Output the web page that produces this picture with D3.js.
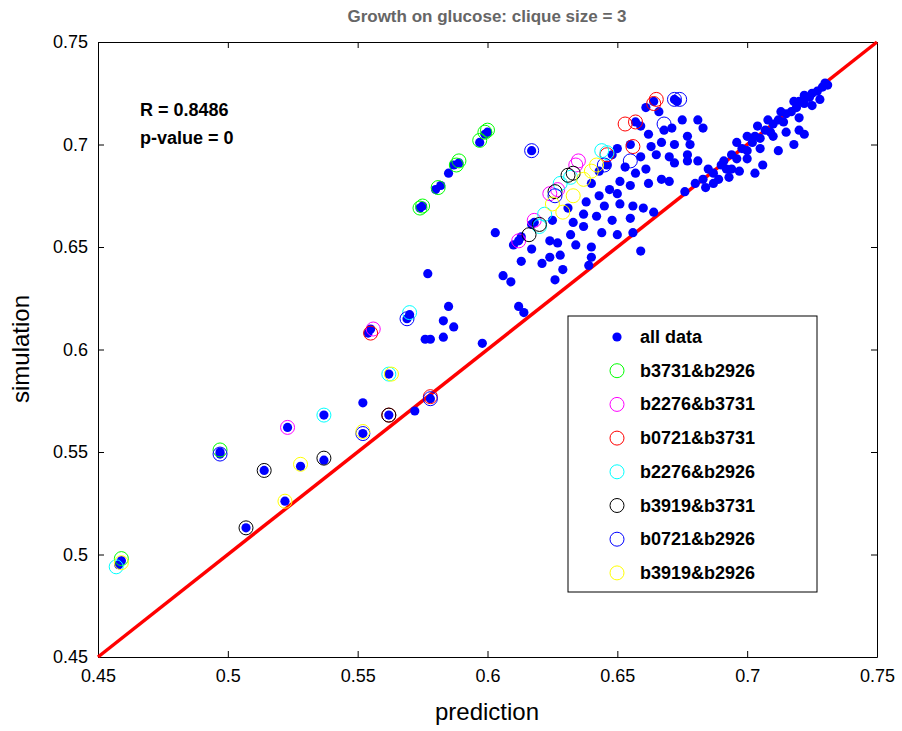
<!DOCTYPE html>
<html><head><meta charset="utf-8">
<script src="https://cdn.jsdelivr.net/npm/d3@7"></script>
<style>body{margin:0;background:#fff;} text{font-family:Arial,"Liberation Sans",sans-serif;}</style>
</head><body><div id="chart"></div>
<script>
var allData = [[0.458,0.495],[0.459,0.497],[0.497,0.550],[0.497,0.549],[0.514,0.541],[0.507,0.513],[0.522,0.526],[0.523,0.562],[0.528,0.543],[0.537,0.568],[0.537,0.546],[0.552,0.559],[0.552,0.574],[0.555,0.610],[0.554,0.608],[0.562,0.588],[0.562,0.568],[0.569,0.615],[0.570,0.617],[0.572,0.570],[0.578,0.576],[0.577,0.637],[0.576,0.605],[0.578,0.605],[0.583,0.606],[0.583,0.614],[0.587,0.611],[0.585,0.621],[0.574,0.669],[0.575,0.670],[0.580,0.678],[0.582,0.680],[0.585,0.686],[0.587,0.690],[0.589,0.691],[0.597,0.701],[0.599,0.705],[0.600,0.706],[0.598,0.603],[0.606,0.636],[0.609,0.633],[0.603,0.657],[0.612,0.653],[0.613,0.655],[0.617,0.697],[0.612,0.621],[0.614,0.618],[0.626,0.634],[0.618,0.662],[0.617,0.661],
[0.664,0.721],[0.672,0.722],[0.673,0.721],[0.661,0.718],[0.666,0.716],[0.675,0.712],[0.681,0.712],[0.683,0.708],[0.657,0.711],[0.659,0.709],[0.662,0.705],[0.668,0.707],[0.671,0.708],[0.677,0.704],[0.672,0.700],[0.667,0.701],[0.663,0.699],[0.655,0.700],[0.650,0.698],[0.648,0.695],[0.659,0.694],[0.665,0.695],[0.670,0.694],[0.672,0.691],[0.677,0.692],[0.681,0.692],[0.653,0.689],[0.657,0.686],[0.661,0.688],[0.646,0.690],[0.643,0.687],[0.651,0.682],[0.655,0.680],[0.662,0.681],[0.667,0.683],[0.670,0.682],[0.647,0.678],[0.650,0.676],[0.640,0.681],[0.643,0.675],[0.638,0.672],[0.645,0.670],[0.651,0.671],[0.656,0.670],[0.660,0.669],[0.664,0.667],[0.637,0.666],[0.642,0.665],[0.648,0.663],[0.655,0.664],[0.631,0.669],[0.633,0.662],[0.625,0.663],[0.632,0.656],[0.637,0.660],[0.644,0.657],[0.650,0.656],[0.656,0.657],[0.627,0.652],[0.634,0.651],[0.640,0.650],[0.617,0.649],[0.621,0.642],[0.624,0.645],[0.610,0.651],[0.613,0.643],[0.624,0.653],[0.628,0.646],[0.640,0.645],[0.659,0.648],[0.629,0.639],[0.639,0.641],
[0.676,0.677],[0.680,0.681],[0.683,0.683],[0.685,0.688],[0.687,0.686],[0.690,0.690],[0.692,0.688],[0.694,0.695],[0.696,0.693],[0.698,0.698],[0.700,0.697],[0.702,0.701],[0.703,0.704],[0.705,0.703],[0.707,0.707],[0.709,0.706],[0.710,0.710],[0.712,0.712],[0.714,0.711],[0.715,0.715],[0.717,0.716],[0.719,0.718],[0.720,0.721],[0.722,0.720],[0.724,0.723],[0.725,0.725],[0.727,0.726],[0.729,0.728],[0.730,0.730],[0.731,0.729],[0.696,0.701],[0.700,0.704],[0.704,0.709],[0.708,0.712],[0.713,0.716],[0.718,0.721],[0.722,0.724],[0.700,0.693],[0.705,0.698],[0.710,0.704],[0.689,0.683],[0.694,0.688],[0.715,0.706],[0.720,0.713],[0.725,0.719],[0.712,0.697],[0.718,0.700],[0.706,0.690],[0.703,0.686],[0.687,0.681],[0.693,0.684],[0.697,0.687],[0.691,0.692],[0.684,0.679],[0.720,0.707],[0.728,0.722],[0.722,0.705],[0.677,0.695],[0.678,0.700]];

var seriesNames = ["b3731&b2926","b2276&b3731","b0721&b3731","b2276&b2926","b3919&b3731","b0721&b2926","b3919&b2926"];
var seriesColors = ["#00ff00","#ff00ff","#ff0000","#00ffff","#000000","#0000ff","#ffff00"];
var seriesPoints = [
  [[0.459,0.498],[0.497,0.551],[0.575,0.670],[0.581,0.679],[0.588,0.690],[0.589,0.692],[0.597,0.702],[0.599,0.706],[0.600,0.707],[0.574,0.669]],
  [[0.523,0.562],[0.556,0.610],[0.612,0.653],[0.618,0.663],[0.624,0.676],[0.634,0.690],[0.635,0.692],[0.627,0.678]],
  [[0.555,0.608],[0.562,0.568],[0.578,0.577],[0.664,0.720],[0.665,0.722],[0.657,0.711],[0.653,0.710],[0.646,0.695],[0.656,0.699]],
  [[0.457,0.494],[0.537,0.568],[0.570,0.618],[0.562,0.588],[0.620,0.660],[0.644,0.697],[0.646,0.696],[0.622,0.666],[0.628,0.681],[0.632,0.684]],
  [[0.514,0.541],[0.507,0.513],[0.537,0.547],[0.562,0.568],[0.616,0.656],[0.620,0.661],[0.626,0.677],[0.631,0.685],[0.633,0.686]],
  [[0.497,0.549],[0.569,0.615],[0.578,0.576],[0.552,0.559],[0.617,0.697],[0.645,0.690],[0.655,0.692],[0.672,0.722],[0.674,0.722],[0.668,0.710],[0.626,0.675]],
  [[0.459,0.496],[0.528,0.544],[0.522,0.526],[0.552,0.560],[0.563,0.588],[0.629,0.667],[0.625,0.671],[0.637,0.683],[0.640,0.687],[0.642,0.690],[0.633,0.675]]
];
var tickValues = [0.45,0.5,0.55,0.6,0.65,0.7,0.75];
var tickLabels = ["0.45","0.5","0.55","0.6","0.65","0.7","0.75"];

var svg = d3.select("#chart").append("svg").attr("width", 902).attr("height", 731);
var plotL = 98, plotR = 877, plotT = 42, plotB = 657;
var x = d3.scaleLinear().domain([0.45,0.75]).range([plotL,plotR]);
var y = d3.scaleLinear().domain([0.45,0.75]).range([plotB,plotT]);

function fmt(d){ return tickLabels[tickValues.indexOf(d)]; }
svg.append("g").attr("transform", `translate(0,${plotB})`)
  .call(d3.axisBottom(x).tickValues(tickValues).tickFormat(fmt).tickSizeInner(-6).tickSizeOuter(0).tickPadding(12));
svg.append("g").attr("transform", `translate(0,${plotT})`)
  .call(d3.axisTop(x).tickValues(tickValues).tickFormat("").tickSizeInner(-6).tickSizeOuter(0));
svg.append("g").attr("transform", `translate(${plotL},0)`)
  .call(d3.axisLeft(y).tickValues(tickValues).tickFormat(fmt).tickSizeInner(-6).tickSizeOuter(0).tickPadding(10));
svg.append("g").attr("transform", `translate(${plotR},0)`)
  .call(d3.axisRight(y).tickValues(tickValues).tickFormat("").tickSizeInner(-6).tickSizeOuter(0));
svg.selectAll(".domain").attr("stroke","#000");
svg.selectAll(".tick text").attr("font-size",18).attr("fill","#000").style("font-family","Arial");

svg.append("line").attr("x1",x(0.45)).attr("y1",y(0.45)).attr("x2",x(0.75)).attr("y2",y(0.75))
  .attr("stroke","#ff0000").attr("stroke-width",3.5);

svg.append("g").selectAll("circle").data(allData).enter().append("circle")
  .attr("cx", d => x(d[0])).attr("cy", d => y(d[1])).attr("r", 4.6).attr("fill","#0000ff");

seriesPoints.forEach(function(pts, i) {
  svg.append("g").selectAll("circle").data(pts).enter().append("circle")
    .attr("cx", d => x(d[0])).attr("cy", d => y(d[1])).attr("r", 7)
    .attr("fill","none").attr("stroke", seriesColors[i]).attr("stroke-width",1);
});

svg.append("text").attr("x",487).attr("y",22).attr("text-anchor","middle")
  .attr("font-size",17).attr("font-weight","bold").attr("fill","#666").text("Growth on glucose: clique size = 3");
svg.append("text").attr("x",140).attr("y",116).attr("font-size",18).attr("font-weight","bold").text("R = 0.8486");
svg.append("text").attr("x",140).attr("y",144).attr("font-size",18).attr("font-weight","bold").text("p-value = 0");
svg.append("text").attr("x",487).attr("y",720).attr("text-anchor","middle").attr("font-size",24).text("prediction");
svg.append("text").attr("transform","translate(29,349) rotate(-90)").attr("text-anchor","middle").attr("font-size",24).text("simulation");

var legend = svg.append("g");
legend.append("rect").attr("x",568).attr("y",316).attr("width",249).attr("height",276)
  .attr("fill","#fff").attr("stroke","#000");
var names = ["all data"].concat(seriesNames);
names.forEach(function(n, i) {
  var ly = 337 + i * 33.7;
  if (i === 0) legend.append("circle").attr("cx",617).attr("cy",ly).attr("r",4.6).attr("fill","#0000ff");
  else legend.append("circle").attr("cx",617).attr("cy",ly).attr("r",7).attr("fill","none").attr("stroke",seriesColors[i-1]);
  legend.append("text").attr("x",640).attr("y",ly+6).attr("font-size",18).attr("font-weight","bold").text(n);
});
</script></body></html>
